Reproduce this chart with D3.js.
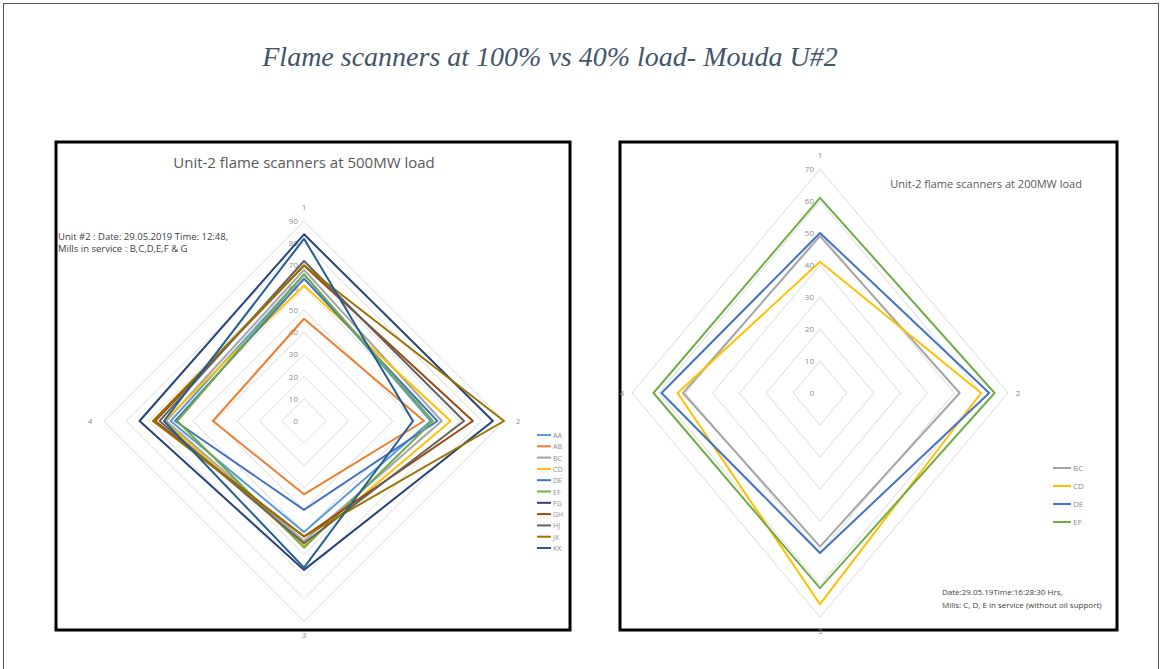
<!DOCTYPE html>
<html><head><meta charset="utf-8">
<script src="https://cdn.jsdelivr.net/npm/d3@7"></script>
<style>body{margin:0;background:#fff}svg{display:block}</style>
</head><body>
<svg id="c" width="1162" height="669"></svg>
<script>
// ---------- data ----------
const mainTitle = "Flame scanners at 100% vs 40% load- Mouda U#2";
const axesCats = ["1", "2", "3", "4"];

const leftTitle = "Unit-2 flame scanners at 500MW load";
const leftNote = ["Unit #2 : Date: 29.05.2019 Time: 12:48,", "Mills  in service : B,C,D,E,F & G"];
const leftTicks = [0, 10, 20, 30, 40, 50, 60, 70, 80, 90];
const leftNames = ["AA", "AB", "BC", "CD", "DE", "EF", "FG", "GH", "HJ", "JK", "KK"];
const leftColors = ["#5b9bd5", "#ed7d31", "#a5a5a5", "#ffc000", "#4472c4", "#70ad47", "#264478", "#9e480e", "#636363", "#997300", "#255e91"];
const AA = [66, 57, 50, 60];
const AB = [46, 54, 33, 41];
const BC = [68, 62, 54, 62];
const CD = [61, 66, 56, 63];
const DE = [64, 60, 40, 58];
const EF = [66, 58, 57, 57];
const FG = [84, 85, 67, 74];
const GH = [70, 76, 52, 67];
const HJ = [72, 72, 55, 65];
const JK = [70, 90, 52, 68];
const KK = [82, 49, 66, 63];
const leftValues = [AA, AB, BC, CD, DE, EF, FG, GH, HJ, JK, KK];

const rightTitle = "Unit-2 flame scanners at 200MW load";
const rightNote = ["Date:29.05.19Time:16:28:30 Hrs,", "Mills: C, D, E in service (without oil support)"];
const rightTicks = [0, 10, 20, 30, 40, 50, 60, 70];
const rightNames = ["BC", "CD", "DE", "EF"];
const rightColors = ["#a5a5a5", "#ffc000", "#4472c4", "#70ad47"];
const rBC = [49, 52, 48, 51];
const rCD = [41, 60, 66, 53];
const rDE = [50, 63, 50, 59];
const rEF = [61, 65, 61, 62];
const rightValues = [rBC, rCD, rDE, rEF];

// ---------- drawing ----------
const svg = d3.select("#c");
svg.append("rect").attr("width", 1162).attr("height", 669).attr("fill", "#fff");
svg.append("rect").attr("x", 3.5).attr("y", 3.5).attr("width", 1155).attr("height", 700)
  .attr("fill", "none").attr("stroke", "#555").attr("stroke-width", 1);

svg.append("text").attr("x", 550).attr("y", 66).attr("text-anchor", "middle")
  .attr("font-family", "Liberation Serif, serif").attr("font-style", "italic")
  .attr("font-size", 28).attr("fill", "#44546a").text(mainTitle);

function panel(x, y, w, h) {
  svg.append("rect").attr("x", x).attr("y", y).attr("width", w).attr("height", h)
    .attr("fill", "#fff").attr("stroke", "#000").attr("stroke-width", 3);
}
panel(56, 142, 514, 488);
panel(620, 142, 497, 488);

function radar(o) {
  const g = svg.append("g");
  const sx = d3.scaleLinear().domain([0, o.max]).range([0, o.rx]);
  const sy = d3.scaleLinear().domain([0, o.max]).range([0, o.ry]);
  const ang = d3.scalePoint().domain(axesCats).range([0, 2 * Math.PI * 3 / 4]);
  const pt = (c, v) => [o.cx + sx(v) * Math.sin(ang(c)), o.cy - sy(v) * Math.cos(ang(c))];
  const line = d3.line().curve(d3.curveLinearClosed);
  // rings
  g.selectAll(".ring").data(o.ticks.slice(1)).join("path")
    .attr("d", t => line(axesCats.map(c => pt(c, t))))
    .attr("fill", "none").attr("stroke", "#d9d9d9").attr("stroke-width", 1);
  // tick labels
  g.selectAll(".tl").data(o.ticks).join("text")
    .attr("x", o.cx - 6).attr("y", t => o.cy - sy(t) + 3)
    .attr("text-anchor", "end").attr("font-family", "Open Sans, sans-serif")
    .attr("font-size", o.tickFs).attr("fill", "#8c8c8c").text(t => t);
  // category labels
  g.selectAll(".cl").data(axesCats).join("text")
    .attr("x", c => o.cx + (sx(o.max) + o.catOffX) * Math.sin(ang(c)))
    .attr("y", c => o.cy - (sy(o.max) + o.catOffY) * Math.cos(ang(c)) + 3)
    .attr("text-anchor", "middle").attr("font-family", "Open Sans, sans-serif")
    .attr("font-size", o.tickFs).attr("fill", "#8c8c8c").text(c => c);
  // series
  g.selectAll(".s").data(o.values).join("path")
    .attr("d", v => line(axesCats.map((c, i) => pt(c, v[i]))))
    .attr("fill", "none").attr("stroke", (v, i) => o.colors[i])
    .attr("stroke-width", o.lw).attr("stroke-linejoin", "round");
  // legend
  const lg = g.selectAll(".lg").data(o.names).join("g")
    .attr("transform", (n, i) => `translate(${o.lx},${o.ly + i * o.lstep})`);
  lg.append("line").attr("x1", 0).attr("x2", o.llen).attr("stroke", (n, i) => o.colors[i]).attr("stroke-width", o.lw);
  lg.append("text").attr("x", o.llen + 2).attr("y", 3).attr("font-family", "Open Sans, sans-serif")
    .attr("font-size", o.legFs).attr("fill", "#8c8c8c").text(n => n);
}

radar({cx: 304, cy: 421, rx: 200, ry: 200, max: 90, ticks: leftTicks, values: leftValues,
  colors: leftColors, names: leftNames, lw: 2, tickFs: 8, legFs: 7, catOffX: 14, catOffY: 14,
  lx: 537, ly: 435, lstep: 11.3, llen: 14});
radar({cx: 820, cy: 393, rx: 188, ry: 224, max: 70, ticks: rightTicks, values: rightValues,
  colors: rightColors, names: rightNames, lw: 2, tickFs: 8, legFs: 8, catOffX: 10, catOffY: 14,
  lx: 1053, ly: 468, lstep: 18, llen: 18});

svg.append("text").attr("x", 304).attr("y", 168).attr("text-anchor", "middle")
  .attr("font-family", "Open Sans, sans-serif").attr("font-size", 15).attr("fill", "#595959").text(leftTitle);
svg.append("text").attr("x", 986).attr("y", 188).attr("text-anchor", "middle")
  .attr("font-family", "Open Sans, sans-serif").attr("font-size", 11).attr("fill", "#595959").text(rightTitle);

svg.append("g").selectAll("text").data(leftNote).join("text")
  .attr("x", 58).attr("y", (d, i) => 240 + i * 12).attr("font-family", "Open Sans, sans-serif")
  .attr("font-size", 9.5).attr("fill", "#404040").text(d => d);
svg.append("g").selectAll("text").data(rightNote).join("text")
  .attr("x", 942).attr("y", (d, i) => 595 + i * 13).attr("font-family", "Open Sans, sans-serif")
  .attr("font-size", 8).attr("fill", "#404040").text(d => d);
</script>
</body></html>
